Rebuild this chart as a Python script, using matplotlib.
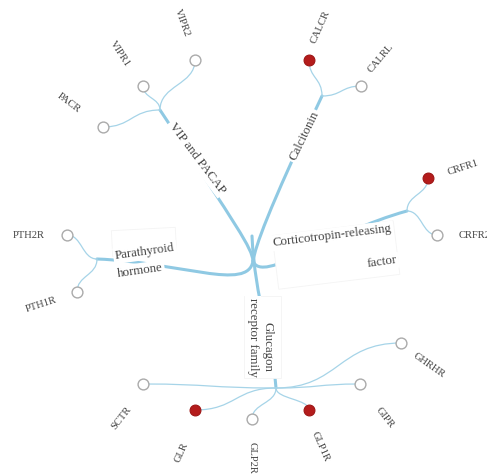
import matplotlib
matplotlib.use("Agg")
import matplotlib.pyplot as plt
from matplotlib.path import Path
from matplotlib.patches import PathPatch, Rectangle

# ---- data -------------------------------------------------------------------
families = ["VIP and PACAP", "Calcitonin", "Corticotropin-releasing factor",
            "Parathyroid hormone", "Glucagon receptor family"]
receptors = ["PACR", "VIPR1", "VIPR2",
             "CALCR", "CALRL",
             "CRFR1", "CRFR2",
             "PTH2R", "PTH1R",
             "SCTR", "GLR", "GLP2R", "GLP1R", "GIPR", "GHRHR"]
receptor_family = [0, 0, 0, 1, 1, 2, 2, 3, 3, 4, 4, 4, 4, 4, 4]
highlighted = [False, False, False, True, False, True, False, False, False,
               False, True, False, True, False, False]

# ---- layout (pixel coords, y down) ------------------------------------------
ROOT = (253, 261)
branch_xy = [(160, 110), (322, 96), (407, 211), (97, 259), (276, 388)]
# cubic handles for root -> family links
branch_ctrl = [((252, 248), (238, 228)), ((256, 245), (266, 215)),
               ((262, 285), (330, 232)), ((248, 292), (180, 262)),
               ((255, 300), (272, 340))]
branch_start = [ROOT, ROOT, ROOT, ROOT, (252, 236)]
family_text = [[("VIP and PACAP", 197, 158, -53)],
               [("Calcitonin", 304, 136, 64)],
               [("Corticotropin-releasing", 332, 236, 7), ("factor", 382, 262, 8)],
               [("Parathyroid", 145, 252, 8), ("hormone", 140, 271, 8)],
               [("Glucagon", 268, 347, -90), ("receptor family", 253, 337, -90)]]
# faint white panels behind the wrapped labels: (x, y, w, h, angle)
label_panels = [(275, 228, 122, 54, -7), (112, 229, 64, 26, -3), (244, 296, 37, 82, 0)]

leaf_xy = [(103, 127), (143, 86), (195, 60),
           (309, 60), (361, 86),
           (428, 178), (437, 235),
           (67, 235), (77, 292),
           (143, 384), (195, 410), (252, 419), (309, 410), (360, 384), (401, 343)]
leaf_orient = ["h", "v", "v", "v", "h", "v", "h", "h", "v",
               "h", "h", "v", "v", "h", "h"]
leaf_text = [(69, 103, -37), (120, 54, -57), (182, 23, -70),
             (320, 27, 66), (381, 58, 50),
             (463, 168, 18), (459, 235, 0),
             (29, 235, 0), (41, 305, 18),
             (121, 418, 52), (182, 452, 66), (252, 458, -90), (320, 447, -66),
             (385, 418, -52), (429, 365, -35)]

MAIN_C = "#8fc9e3"
LEAF_C = "#a6d4e8"
RED = "#b41c1c"
TXT = "#444444"
SERIF = ["Liberation Serif", "DejaVu Serif"]

fig = plt.figure(figsize=(4.87, 4.75), dpi=100)
ax = fig.add_axes([0, 0, 1, 1])
ax.set_xlim(0, 487)
ax.set_ylim(475, 0)
ax.axis("off")


def curve(p0, c1, c2, p1, **kw):
    path = Path([p0, c1, c2, p1], [Path.MOVETO, Path.CURVE4, Path.CURVE4, Path.CURVE4])
    ax.add_patch(PathPatch(path, fc="none", capstyle="round", **kw))


# root -> family links
for i in range(len(families)):
    c1, c2 = branch_ctrl[i]
    curve(branch_start[i], c1, c2, branch_xy[i], ec=MAIN_C, lw=2.2, zorder=1)

# family -> receptor links
for i, name in enumerate(receptors):
    bx, by = branch_xy[receptor_family[i]]
    lx, ly = leaf_xy[i]
    if leaf_orient[i] == "h":
        mx = (bx + lx) / 2
        c1, c2 = (mx, by), (mx, ly)
    else:
        my = (by + ly) / 2
        c1, c2 = (bx, my), (lx, my)
    curve((bx, by), c1, c2, (lx, ly), ec=LEAF_C, lw=0.9, zorder=1)

for x, y, w, h, ang in label_panels:
    ax.add_patch(Rectangle((x, y), w, h, angle=ang, rotation_point="center",
                           fc="white", ec="#f4f4f4", lw=0.6, zorder=1.5))

# family labels with white boxes hiding the link underneath
for lines in family_text:
    for txt, x, y, rot in lines:
        ax.text(x, y, txt, rotation=rot, rotation_mode="anchor", ha="center", va="center",
                fontsize=9.3, family=SERIF, color=TXT, zorder=2,
                bbox=dict(boxstyle="square,pad=0.15", fc="white", ec="none"))

# receptor nodes
for i, name in enumerate(receptors):
    lx, ly = leaf_xy[i]
    if highlighted[i]:
        ax.plot(lx, ly, "o", ms=7.8, mfc=RED, mec="#9e1515", mew=0.8, zorder=3)
    else:
        ax.plot(lx, ly, "o", ms=7.8, mfc="white", mec="#aaaaaa", mew=1.0, zorder=3)
    tx, ty, rot = leaf_text[i]
    ha = "left" if name == "CRFR2" else "center"
    ax.text(tx, ty, name, rotation=rot, rotation_mode="anchor", ha=ha, va="center",
            fontsize=7.6, family=SERIF, color=TXT, zorder=3)

fig.savefig("out.png", dpi=100)
